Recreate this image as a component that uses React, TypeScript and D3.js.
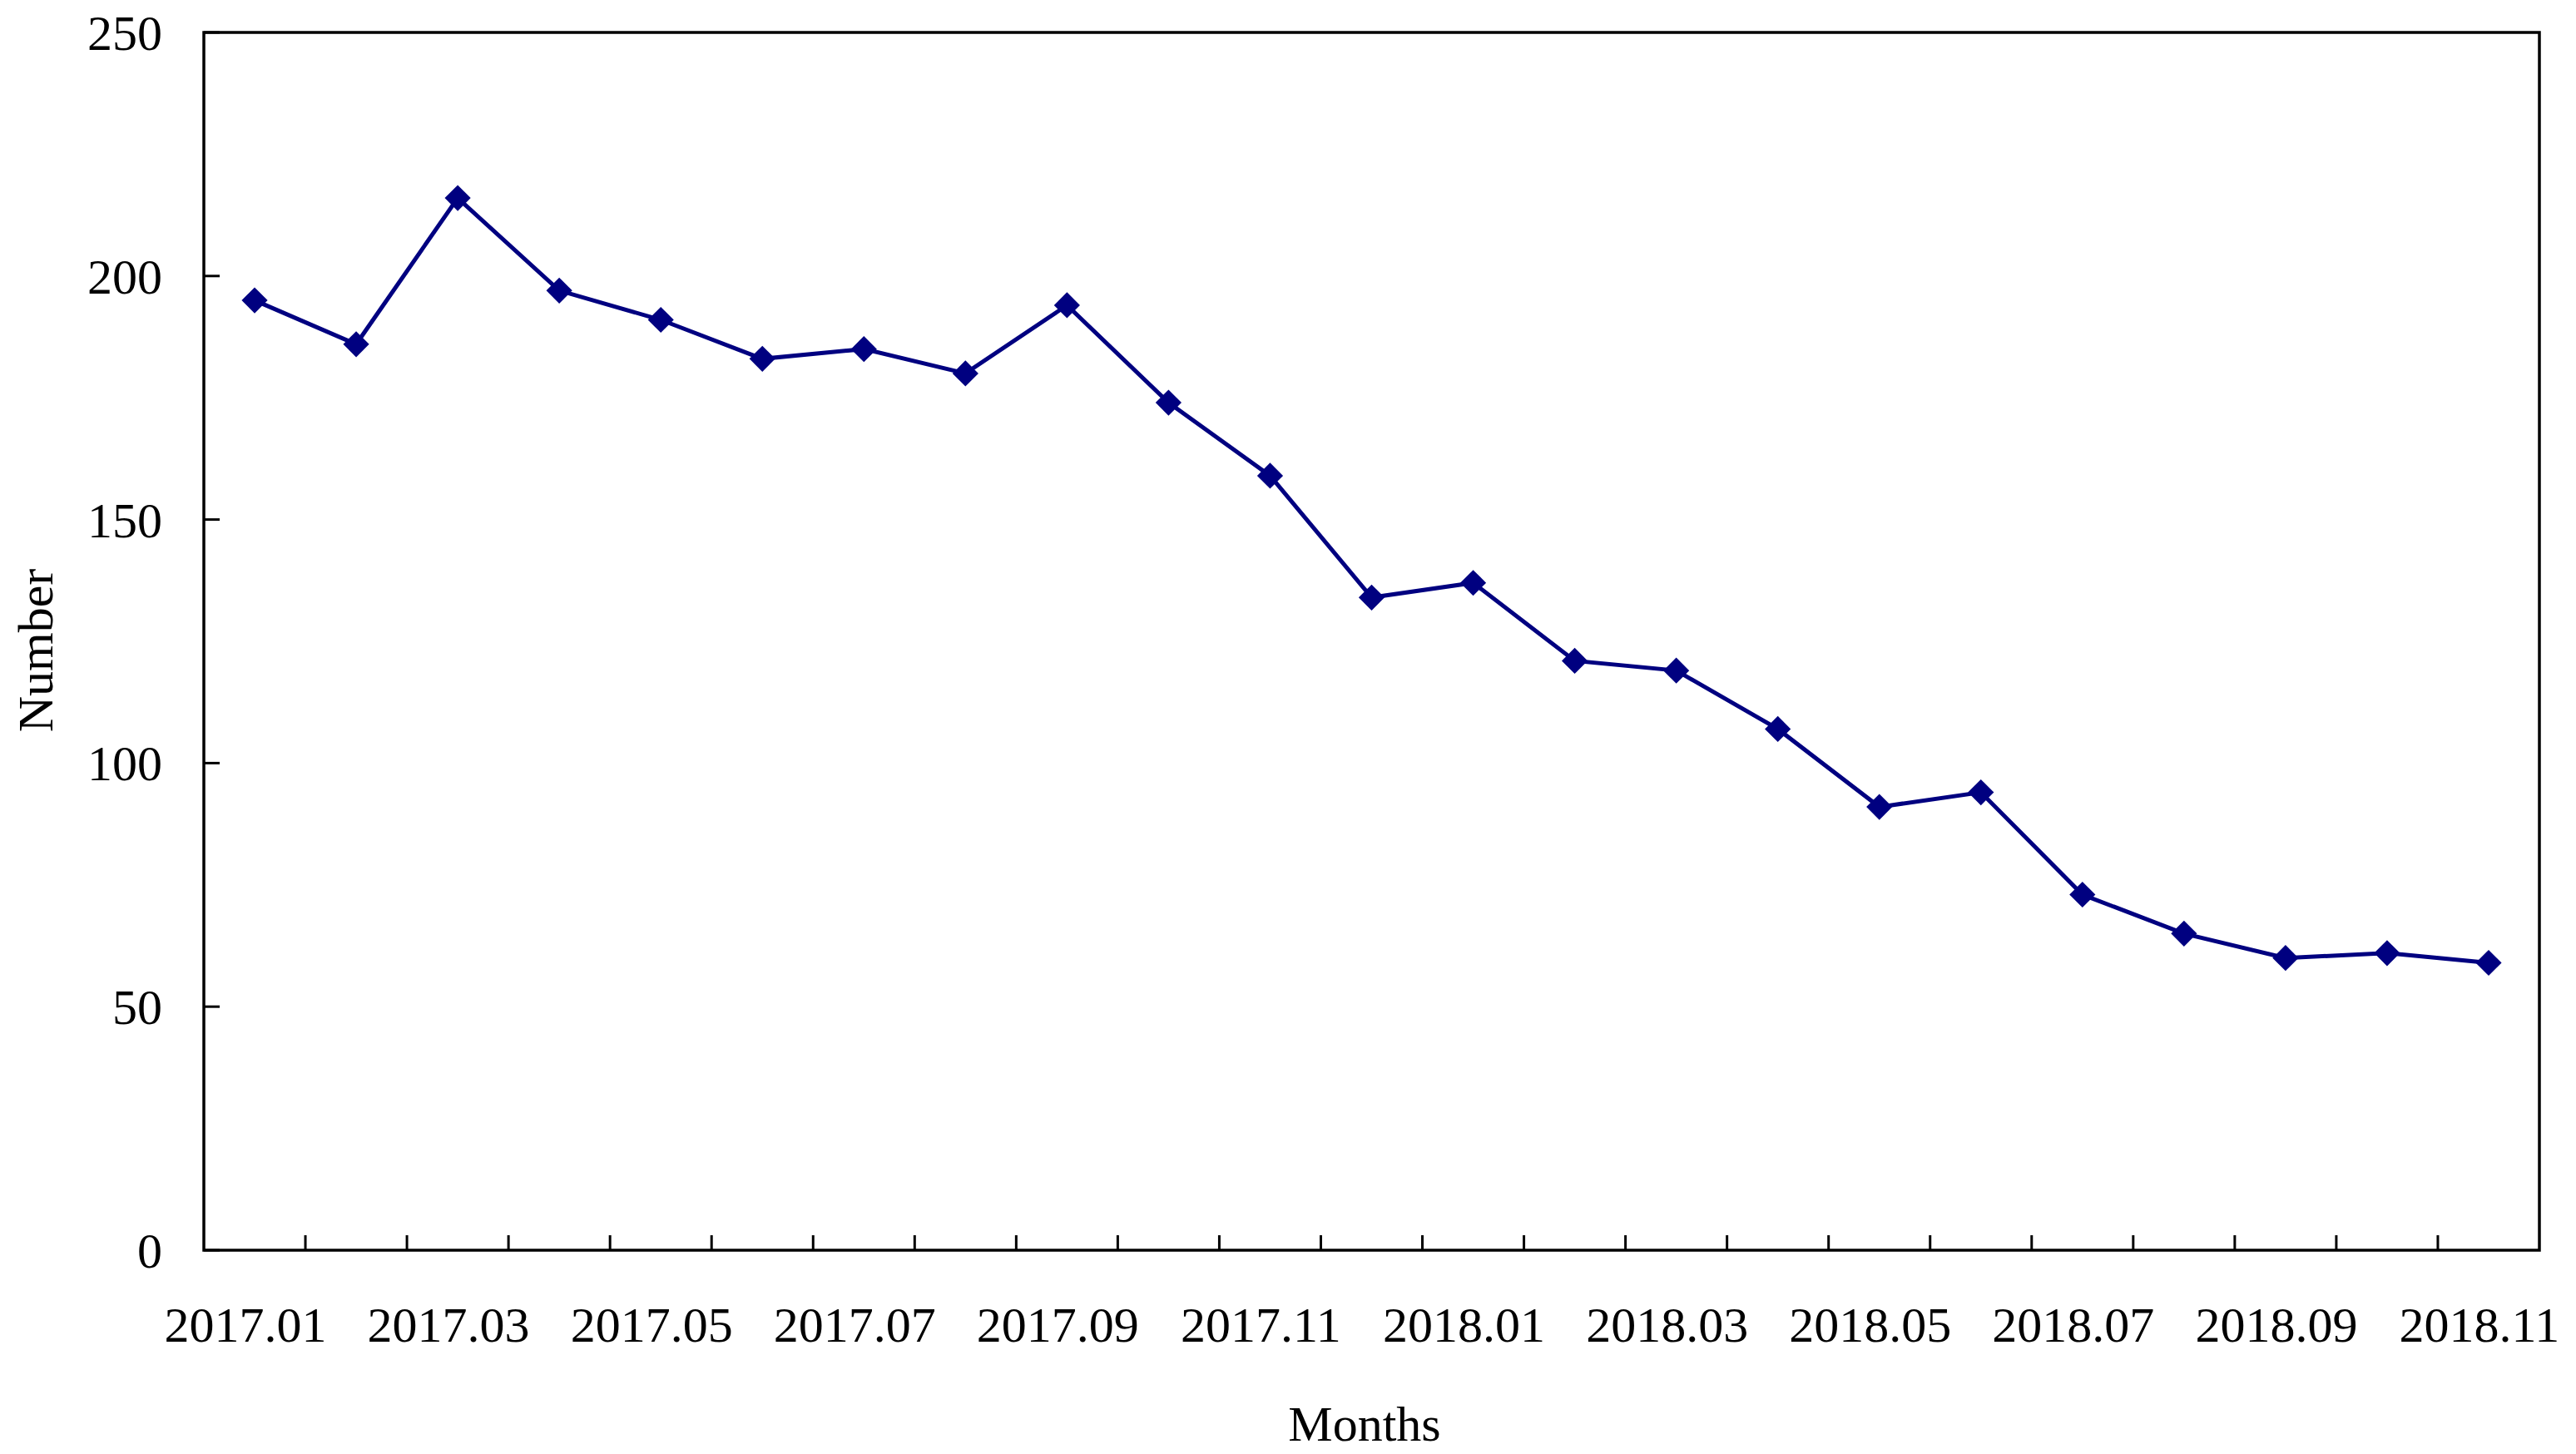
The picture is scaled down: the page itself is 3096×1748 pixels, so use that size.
import React from "react";
import * as d3 from "d3";

const months = [
  "2017.01", "2017.02", "2017.03", "2017.04", "2017.05", "2017.06", "2017.07", "2017.08",
  "2017.09", "2017.10", "2017.11", "2017.12", "2018.01", "2018.02", "2018.03", "2018.04",
  "2018.05", "2018.06", "2018.07", "2018.08", "2018.09", "2018.10", "2018.11",
];
const values = [195, 186, 216, 197, 191, 183, 185, 180, 194, 174, 159, 134, 137, 121, 119, 107, 91, 94, 73, 65, 60, 61, 59];
const xLabels = ["2017.01", "2017.03", "2017.05", "2017.07", "2017.09", "2017.11", "2018.01", "2018.03", "2018.05", "2018.07", "2018.09", "2018.11"];
const yTicks = [0, 50, 100, 150, 200, 250];

const W = 3096;
const H = 1748;
const L = 245, R = 3052, T = 39, B = 1503;
const FONT = "'Liberation Serif', 'Times New Roman', serif";
const NAVY = "#000080";

export default function App() {
  const x = d3.scaleBand<string>().domain(months).range([L, R]).paddingInner(0).paddingOuter(0);
  const y = d3.scaleLinear().domain([0, 250]).range([B, T]);
  const cx = (m: string) => (x(m) as number) + x.bandwidth() / 2;
  const line = d3.line<number>().x((_, i) => cx(months[i])).y((v) => y(v));
  const diamond = d3.symbol().type(d3.symbolDiamond2).size(620)();
  const boundaries = months.slice(1).map((m) => x(m) as number);

  return (
    <>
      <style>{`body{margin:0;background:#fff}`}</style>
      <svg width={W} height={H} style={{ display: "block", background: "#fff" }}>
        {/* y ticks */}
        {yTicks.map((t) => (
          <g key={"y" + t}>
            <line x1={L} x2={L + 19} y1={y(t)} y2={y(t)} stroke="#000" strokeWidth={3} />
            <text x={195} y={y(t) + 21} textAnchor="end" fontFamily={FONT} fontSize={60} fill="#000">
              {t}
            </text>
          </g>
        ))}
        {/* x ticks */}
        {boundaries.map((bx, i) => (
          <line key={"xt" + i} x1={bx} x2={bx} y1={B} y2={B - 18} stroke="#000" strokeWidth={3} />
        ))}
        {xLabels.map((lab) => (
          <text key={lab} x={cx(lab) - 11} y={1613} textAnchor="middle" fontFamily={FONT} fontSize={60} fill="#000">
            {lab}
          </text>
        ))}
        {/* frame */}
        <rect x={L} y={T} width={R - L} height={B - T} fill="none" stroke="#000" strokeWidth={3.5} />
        {/* series */}
        <path d={line(values) || ""} fill="none" stroke={NAVY} strokeWidth={5} strokeLinejoin="miter" />
        {values.map((v, i) => (
          <path key={"m" + i} d={diamond || ""} transform={`translate(${cx(months[i])},${y(v)})`} fill={NAVY} />
        ))}
        {/* axis titles */}
        <text x={1640} y={1732} textAnchor="middle" fontFamily={FONT} fontSize={60} fill="#000">
          Months
        </text>
        <text
          transform={`translate(63,782) rotate(-90)`}
          textAnchor="middle"
          fontFamily={FONT}
          fontSize={60}
          fill="#000"
        >
          Number
        </text>
      </svg>
    </>
  );
}
